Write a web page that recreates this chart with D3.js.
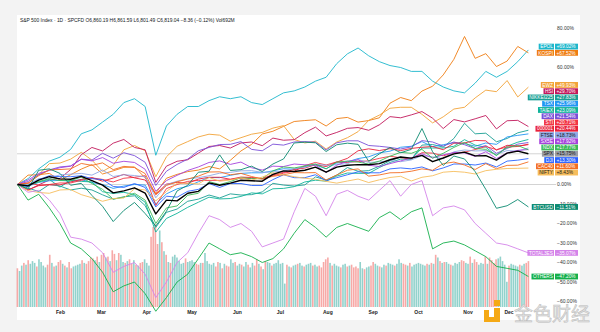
<!DOCTYPE html>
<html><head><meta charset="utf-8">
<script src="https://cdn.jsdelivr.net/npm/d3@7/dist/d3.min.js"></script>
<style>
body{margin:0;background:#f3f3f3;}
svg{display:block;font-family:"Liberation Sans","DejaVu Sans",Arial,sans-serif;}
</style></head><body>
<svg id="chart" width="600" height="332"></svg>
<script>
// ---- data (weekly samples, % change since first bar) ----
const EPOL   = [0,3,8,12,14,18,26,28,32,36,42,44,40,15,30,36,40,40,43,45,44,45,42,41,44,47,48,50,53,55,62,67,70,66,63,61,60,58,58,53,50,48,47,52,58,55,58,63,69.02];
const KOSPI  = [0,4.8,5,5.7,2.2,5,7.9,10.2,5.4,7,8.8,9,3.4,-4.5,3.2,5.2,6.6,7.4,9.2,8,12.4,17.2,20.6,25.9,27.3,29.8,32.3,32.8,33.2,30,33.8,34.4,32,32.8,34.2,41.7,44.6,43,47.9,50.4,56.2,64.2,75.9,64.7,67.1,60.5,63.3,70.8,67.52];
const EWZ    = [0,0.5,5,10.7,11,13,16.5,12.5,6.7,9.8,17.8,20,17.3,4,14.2,19.6,22,24.4,25.8,25.3,22.2,24,25.8,26.7,28.9,30.2,23.1,21.3,22.2,18.2,21.8,24,27.1,32.9,35.6,39.1,39.6,39.6,36,31.6,34.7,38.7,39.6,44.4,48.4,47.6,53.3,44.9,49.93];
const HSI    = [0,-2.9,-0.2,2.3,3.1,7.7,15.3,19,17.2,21.2,23.1,19,17.8,1.1,9.4,11.9,12.7,16.1,19.5,20,18.7,21.3,21.8,19.9,23.8,22.7,23,26.6,29.4,24.9,26.7,28.8,29.2,27.8,30.6,34.8,34.2,35.7,37.4,34,28.7,33.3,32.1,33.7,35.4,28.5,32.7,32.9,29.7];
const NIKKEI = [0,-1.8,-3.6,0,-0.8,-2.8,-1.9,-2.8,-5.3,-7.5,-6.3,-5.8,-10.8,-22,-14.3,-12.6,-8.6,-7.5,-5.4,-6.9,-4.8,-5.4,-5.2,-3.8,0.6,-0.3,-0.8,-0.2,3.9,2.3,4.8,8.7,6.8,7.1,9.4,12.2,14,12.9,20.2,20.5,19.2,23.6,31.4,26,26.3,21.9,23.6,26.5,27.83];
const TSX    = [0,-0.9,1.1,1.9,2.1,1.8,2.5,1,0,-2,-0.8,0,-0.3,-10,-4.8,-2.2,-0.9,1.4,3.6,3.5,4.7,5.7,6,6,7,8.1,7.8,9.2,10,8.1,11,11.6,13.3,14.2,16.2,17.1,19.1,19.6,22,19.4,20.4,21.4,21,19.6,21.3,20.6,24.4,25.2,25.96];
const TAIEX  = [0,-0.4,1.3,2.6,-1.3,2.1,1.6,1.3,-3.7,-4.6,-4,-5.2,-9.1,-24.4,-17.4,-14.8,-11.7,-9.1,-6.5,-7.4,-7.2,-6.1,-4.3,-4.8,-2.2,-2,-1.1,1.3,2.2,1.7,4.3,5.9,5.7,5.7,8.7,11.3,13,13,18.7,18.7,18.7,19.6,23,20.2,19.1,14.8,19.6,21.7,23.09];
const DAX    = [0,1.5,5,7.5,9,9.5,13,12.5,16,13.5,16.3,14.8,11.4,-0.5,6.8,10.3,13,17.3,19,20.5,20.6,22,18,17.3,20.7,20.2,21.8,22,21.7,17.7,21.4,22.4,22.4,20,19.6,19,18.2,19.3,22.5,21.8,19.7,21.8,20.4,18.4,20,16,18.5,20.7,21.54];
const STI    = [0,0.8,-0.3,0,0.8,0.8,2.1,3.4,2.6,1.3,3.2,3.7,4.5,-10.8,-2.1,0,1.6,2.1,2.1,2.1,2.6,3.2,3.2,2.9,4.5,5.8,6.8,9.7,11.3,10,11.6,11.3,11.8,12.1,13.4,14.5,13.7,13.2,16.3,16.1,14.7,16.3,16.6,17.9,19.5,17.9,19.2,19.5,20.71];
const SSE    = [0,-2.8,-0.6,-0.2,-0.2,1.3,2.6,3.5,1.7,3.3,5.2,3.4,2.3,-5,0.2,1.1,0.6,2.8,3.7,3.7,2.7,3.8,3.6,3.1,5,6.2,7.7,8.4,10.2,9.2,11.5,13.4,17.3,18.3,17.4,18.4,17.4,18.5,19.1,19.5,17.8,21.2,21.3,22.6,22.4,17.6,20.1,19.7,20.44];
const FTSE   = [0,0,3,3,5,5.3,5.7,4.8,7.4,4.1,5,4.6,3.9,-6.8,-0.1,1.7,2.9,3.5,4.5,5.8,6.2,7,7.1,6.2,6.5,6.8,8.2,8.8,10.4,9.8,10.2,10.7,12.8,11.3,11.6,12.3,11.7,12.6,14.8,14.2,13.2,16.8,17.7,17.2,17.4,15.5,17.4,17.1,18.73];
const SX5E   = [0,2.3,5.7,7.2,8.6,9.4,12.9,12.1,13.8,10.9,11.9,11.3,7.8,-3.5,2,4.7,7.2,9,11.3,12.1,10.3,11.5,8.6,7.4,9.4,9.2,10.5,10.1,9.9,6.2,9.9,11.9,12.7,9.9,9.2,10.7,12.1,13.6,15.8,13.6,15.2,16.4,16.2,14.4,16.8,13.3,16.2,17.5,17.92];
const NDX    = [0,-0.5,1.5,3.0,2.0,2.0,3.8,0.5,-2.5,-7.5,-6.5,-4.5,-8.0,-20.0,-12.0,-11.0,-5.5,-4.5,1.5,0,1.5,3.5,3.0,3.0,7.0,9.0,8.5,9.5,10.5,8.0,11.5,12.0,11.5,10.5,12.0,14.5,16.5,16.0,18.0,13.5,16.0,19.0,21.5,18.5,18.0,15.0,19.0,20.0,17.77];
const SPX    = [0,-0.7,2.2,4.0,2.9,2.7,4.2,2.0,-0.3,-4.3,-3.3,-1.7,-4.4,-15.1,-8.0,-8.4,-4.5,-3.5,0.8,-0.4,0.7,2.2,1.9,1.7,5.2,7.0,6.7,7.3,8.9,6.3,8.9,9.9,10.2,10.1,10.7,12.7,14.1,13.5,14.9,11.7,13.6,15.7,16.6,14.7,14.8,12.5,16.1,17.1,15.75];
const DJI    = [0,-1.0,2.5,4.5,4.0,4.0,4.5,3.0,2.5,-1.0,-1.5,0.5,-1.5,-11.5,-6.0,-6.5,-3.5,-2.5,0.5,-1.5,0.5,0.5,-0.5,-0.5,2.5,5.0,3.5,3.5,5.0,2.0,3.5,5.0,6.5,6.0,6.0,8.0,8.5,8.0,9.0,7.0,8.5,10.5,10.5,10.0,11.0,9.0,12.0,12.5,13.3];
const CAC40  = [0,0.7,4.5,7.5,7.7,8,10.8,9.8,11.1,7.6,9.3,8.7,5.6,-5.3,-0.5,1.4,2.8,4.3,6.4,6.5,5,5.7,4.1,2.8,4.2,5,6.1,6,6.1,2.3,4.9,7.3,8,4.3,4.9,6,6.1,6.8,8,7.3,10.7,11.5,10,7.7,10.7,8.1,9.8,9.9,11.6];
const NIFTY  = [0,-3.1,-4.1,-4.5,-2.8,-2.6,-5.2,-6.8,-8.6,-7.2,-6.9,-2.2,-2.8,-8.4,-3.6,0.6,0.7,0.3,3.6,1.7,2.3,3.4,2.2,3.8,6,5,4,3.2,2.7,1.6,0.7,1.8,2.8,1,2.4,3.6,4.2,1.8,3.7,4.5,6.3,6.7,6.3,5.4,7.1,7.8,8.2,8.3,8.43];
const BTCUSD = [0,-2.3,7.3,8,5.7,-0.4,0.6,-5.6,-11.2,-19,-13.3,-9.2,-14.9,-21.3,-13.7,-3.3,-0.4,6.3,6.8,15.2,7.2,7.6,9.4,6.6,10.5,13.1,21.3,21.7,21.4,16.9,20.4,21.2,20.6,11.9,15.7,19,16.3,18,28.7,16.8,9.8,14.6,13.1,6.6,-2.5,-12.2,-10.9,-7.7,-11.51];
const TOTAL3ES = [0,-4,-3,-8,-15,-27,-28,-30,-35,-45,-42,-40,-46,-58,-50,-40,-35,-25,-16,-18,-22,-20,-24,-32,-30,-28,-14,-2,-6,-16,-5,-3,-6,-8,-3,2,-6,0,2,-16,-12,-11,-13,-20,-25,-30,-31,-33,-35.07];
const OTHERS = [0,-8,-5,-12,-20,-30,-33,-38,-45,-55,-52,-50,-56,-65,-58,-50,-46,-38,-30,-33,-36,-35,-37,-40,-38,-33,-25,-18,-22,-27,-22,-20,-22,-24,-17,-14,-18,-14,-12,-33,-30,-29,-31,-34,-37,-42,-43,-44,-47.2];

// SPX daily volume (billions; negative = down day)
const volume = [
 -4.3,4.0,4.6,-4.9,4.7,-5.2,4.8,5.1,4.9,-4.5,5.3,5.0,4.6,4.4,-4.7,-5.8,4.9,-4.5,4.6,-5.0,
 -5.2,4.8,-4.6,4.4,-5.0,-4.3,4.5,4.6,4.7,4.8,-5.2,4.9,-4.8,-5.1,-5.5,-5.4,5.2,-5.6,5.0,
 -5.8,-6.0,5.5,-5.6,5.1,-6.3,-5.9,5.2,-6.0,5.8,5.0,-4.9,5.1,-5.3,-4.8,5.2,-4.7,4.6,-4.9,-5.0,5.3,
 4.9,4.6,-7.8,-8.9,-9.2,-7.0,8.5,-7.2,6.2,-5.8,5.0,-4.9,5.6,5.8,5.5,5.1,4.8,4.9,-5.4,5.0,5.1,
 5.2,5.0,-4.8,-4.7,4.9,-4.9,6.0,5.1,4.8,4.7,4.9,-4.5,-5.0,4.9,-4.3,4.8,-4.6,-4.5,5.3,4.9,-5.0,
 4.6,4.8,-4.7,4.5,5.0,-4.7,4.4,4.9,-4.6,-5.3,4.8,-4.5,4.2,-5.1,5.0,4.9,-4.6,4.8,4.9,5.2,
 4.8,4.9,2.6,-4.7,4.5,-4.4,4.6,4.7,-4.8,4.9,4.6,-4.5,4.7,4.8,4.9,-4.6,4.7,4.5,-4.6,-4.4,-5.0,-5.3,
 -5.5,4.9,-4.6,4.8,4.6,4.5,-4.4,4.7,4.8,-4.5,4.6,-4.7,-4.4,-4.5,-4.3,5.0,4.3,-4.2,4.4,4.5,-4.6,
 -5.0,4.8,4.6,-4.5,4.4,4.7,-4.6,4.9,4.8,4.7,-4.6,4.8,5.3,4.9,-4.8,-4.7,4.6,-4.9,4.5,4.7,4.8,
 4.9,4.8,4.7,4.6,-4.8,4.7,-4.9,4.8,-5.8,5.5,-5.1,4.9,-5.0,5.0,4.8,-4.7,4.6,4.9,4.8,5.0,-5.2,-5.1,4.9,
 4.8,-5.6,4.9,-5.3,-5.0,4.7,4.9,4.8,-5.6,4.8,-5.5,-5.2,-4.9,-5.3,5.4,5.6,5.1,4.7,2.8,
 -4.6,4.8,4.7,4.6,4.5,-4.7,4.6,4.8,-4.9,-5.1
];

const monthLabels = ["Feb","Mar","Apr","May","Jun","Jul","Aug","Sep","Oct","Nov","Dec"];
const monthStartDay = [20,39,60,81,102,122,144,165,186,209,228];
const yTicks = [80,60,0,-10,-20,-30,-40,-50,-60];
const title = "S&P 500 Index · 1D · SPCFD  O6,860.19  H6,861.59  L6,801.49  C6,819.04  −8.36 (−0.12%)  Vol692M";

const series = [
  {name:"EPOL", data:EPOL, color:"#1db7cc"},
  {name:"KOSPI", data:KOSPI, color:"#ef7d12"},
  {name:"EWZ", data:EWZ, color:"#f2a338"},
  {name:"HSI", data:HSI, color:"#c2185b"},
  {name:"NIKKEI225", data:NIKKEI, color:"#1a9f94"},
  {name:"TSX", data:TSX, color:"#2196f3"},
  {name:"TAIEX", data:TAIEX, color:"#10b39a"},
  {name:"DAX", data:DAX, color:"#7a4fd8"},
  {name:"STI", data:STI, color:"#f23645"},
  {name:"000001", data:SSE, color:"#e8213b"},
  {name:"FTSE", data:FTSE, color:"#90a8e4", dark:true},
  {name:"SX5E", data:SX5E, color:"#a643dc"},
  {name:"NDX", data:NDX, color:"#3dbb58"},
  {name:"DJI", data:DJI, color:"#2962ff"},
  {name:"CAC40", data:CAC40, color:"#f36d21"},
  {name:"NIFTY", data:NIFTY, color:"#f6bd5c", dark:true},
  {name:"BTCUSD", data:BTCUSD, color:"#0b8a70"},
  {name:"TOTAL3ES", data:TOTAL3ES, color:"#d584ea"},
  {name:"OTHERS", data:OTHERS, color:"#15b04c"},
  {name:"SPX", data:SPX, color:"#000000", tag:"#9a9da5", dark:true, main:true}
];

const svg = d3.select("#chart");
const nDays = volume.length;
const x = d3.scaleLinear().domain([0, nDays-1]).range([17.4, 528.4]);
const y = d3.scaleLinear().domain([-60, 80]).range([301.5, 28.5]);
const vh = d3.scaleLinear().domain([0, 10]).range([0, 90]);
const volBase = 307;

// panel
svg.append("rect").attr("x",17).attr("y",15).attr("width",563).attr("height",305).attr("fill","#ffffff");

// title
svg.append("text").attr("x",20).attr("y",22).attr("font-size",4.9).attr("fill","#131722").text(title);

// volume bars
svg.append("g").selectAll("rect").data(volume).join("rect")
  .attr("x",(d,i)=>x(i)-0.8).attr("width",1.6)
  .attr("y",d=>volBase - vh(Math.abs(d))).attr("height",d=>vh(Math.abs(d)))
  .attr("fill",d=>d>=0?"rgba(38,166,154,0.5)":"rgba(239,83,80,0.5)");

// grid / price lines
svg.append("line").attr("x1",17).attr("x2",556).attr("y1",y(0)).attr("y2",y(0)).attr("stroke","#c8c8c8").attr("stroke-width",0.8);
svg.append("line").attr("x1",17).attr("x2",556).attr("y1",y(SPX[SPX.length-1])).attr("y2",y(SPX[SPX.length-1])).attr("stroke","#c8c8c8").attr("stroke-width",0.8);

// y axis labels
svg.append("g").selectAll("text").data(yTicks).join("text")
  .attr("x",557).attr("y",d=>y(d)+1.7).attr("font-size",5).attr("fill","#333")
  .text(d=>(d<0?"−":"")+Math.abs(d).toFixed(2)+"%");

// lines
const nW = EPOL.length;
const line = d3.line().x((d,i)=>x(i*(nDays-1)/(nW-1))).y(d=>y(d));
svg.append("g").selectAll("path").data(series).join("path")
  .attr("d",s=>line(s.data)).attr("fill","none")
  .attr("stroke",s=>s.color).attr("stroke-width",s=>s.main?1.4:0.9)
  .attr("stroke-linejoin","round");

// month labels
svg.append("g").selectAll("text").data(monthLabels).join("text")
  .attr("x",(d,i)=>x(monthStartDay[i])).attr("y",314).attr("text-anchor","middle")
  .attr("font-size",5).attr("font-weight","bold").attr("fill","#222").text(d=>d);

// tags: main series fixed, others pushed away from it
const gap = 6.26;
const tags = series.map(s=>({s, v:s.data[s.data.length-1]}));
tags.forEach(t=>t.y0=y(t.v));
tags.sort((a,b)=>a.y0-b.y0);
const mi = tags.findIndex(t=>t.s.main);
tags[mi].yy = tags[mi].y0;
for(let i=mi-1;i>=0;i--) tags[i].yy = Math.min(tags[i].y0, tags[i+1].yy-gap);
for(let i=mi+1;i<tags.length;i++) tags[i].yy = Math.max(tags[i].y0, tags[i-1].yy+gap);
const tg = svg.append("g");
tags.forEach(t=>{
  const bg = t.s.tag||t.s.color;
  const fg = t.s.dark?"#1a1a1a":"#ffffff";
  const g = tg.append("g");
  const nm = g.append("text").attr("font-size",4.8).attr("text-anchor","end").attr("x",553).attr("y",t.yy+1.7).attr("fill",fg).text(t.s.name);
  const w = nm.node().getComputedTextLength();
  g.insert("rect","text").attr("x",554-w-2.5).attr("y",t.yy-2.9).attr("width",w+2.5).attr("height",5.8).attr("fill",bg);
  g.append("rect").attr("x",555).attr("y",t.yy-2.9).attr("width",23).attr("height",5.8).attr("fill",bg);
  g.append("text").attr("font-size",4.8).attr("x",556.5).attr("y",t.yy+1.7).attr("fill",fg)
    .text((t.v>=0?"+":"−")+Math.abs(t.v).toFixed(2)+"%");
});

// watermark
const wm = svg.append("g");
wm.append("rect").attr("x",494).attr("y",300).attr("width",6).attr("height",6).attr("fill","#f5a915");
wm.append("path").attr("d","M484,310 h5 v7 h5 v-9 h6 v14 h-16 z").attr("fill","#f5a915");
wm.append("text").attr("x",514).attr("y",321).attr("font-size",19)
  .attr("font-family","'Noto Sans CJK SC',sans-serif").attr("fill","#e2e2e2").attr("stroke","#bdbdbd").attr("stroke-width",0.5)
  .text("金色财经");
</script>
</body></html>
